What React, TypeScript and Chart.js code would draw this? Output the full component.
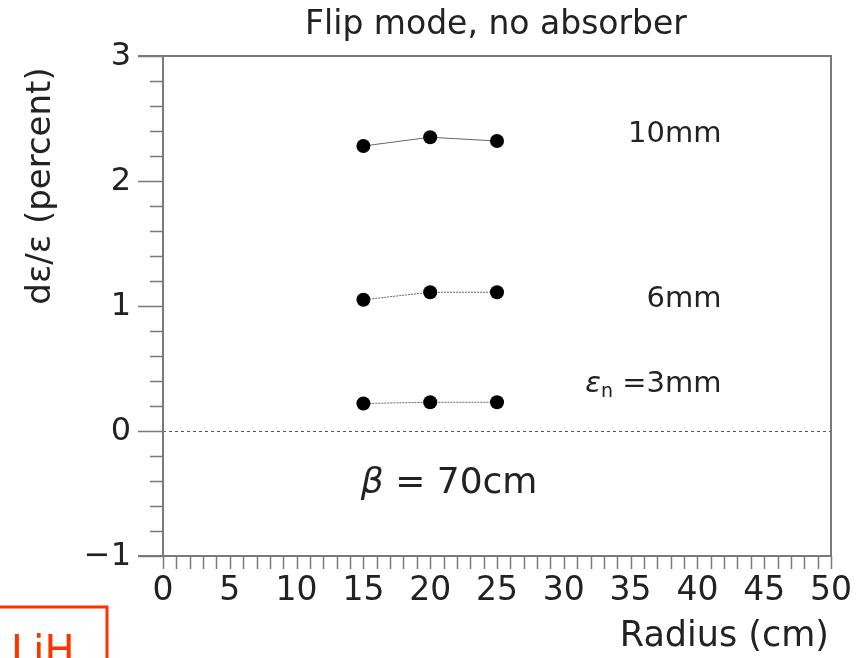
import React, { useEffect, useRef } from "react";
import { Chart, registerables } from "chart.js";

Chart.register(...registerables);

// Radius scan, beam optics beta = 70 cm
const radii = [15, 20, 25];
const emit3mm = [0.22, 0.23, 0.23];
const emit6mm = [1.05, 1.11, 1.11];
const emit10mm = [2.28, 2.35, 2.32];

const xTickValues = [0, 5, 10, 15, 20, 25, 30, 35, 40, 45, 50];
const yTickValues = [-1, 0, 1, 2, 3];

const FONT = '"DejaVu Sans", sans-serif';
const INK = "#222";
const AXIS = "#7a7a7a";

const toPoints = (ys: number[]) => radii.map((r, i) => ({ x: r, y: ys[i] }));

const decorations = {
  id: "decorations",
  beforeDatasetsDraw(chart: any) {
    const { ctx, chartArea: a, scales } = chart;
    const y0 = Math.round(scales.y.getPixelForValue(0)) + 0.5;
    ctx.save();
    ctx.strokeStyle = "#555";
    ctx.lineWidth = 1;
    ctx.setLineDash([3, 3]);
    ctx.beginPath();
    ctx.moveTo(a.left, y0);
    ctx.lineTo(a.right, y0);
    ctx.stroke();
    ctx.restore();
  },
  afterDraw(chart: any) {
    const { ctx, chartArea: a, scales } = chart;
    const xs = scales.x;
    const ys = scales.y;
    ctx.save();

    // frame
    ctx.strokeStyle = AXIS;
    ctx.lineWidth = 2;
    ctx.beginPath();
    ctx.moveTo(a.left - 25, a.top);
    ctx.lineTo(a.right, a.top);
    ctx.lineTo(a.right, a.bottom);
    ctx.moveTo(a.left - 25, a.bottom);
    ctx.lineTo(a.right, a.bottom);
    ctx.moveTo(a.left, a.top);
    ctx.lineTo(a.left, a.bottom);
    ctx.stroke();

    // y ticks: majors at integers, minors every 0.2
    ctx.lineWidth = 1.5;
    ctx.beginPath();
    for (let k = -5; k <= 15; k++) {
      const v = k / 5;
      const py = Math.round(ys.getPixelForValue(v)) + 0.5;
      const major = k % 5 === 0;
      ctx.moveTo(a.left - (major ? 25 : 13), py);
      ctx.lineTo(a.left, py);
    }
    // x ticks every 1 cm
    for (let v = 0; v <= 50; v++) {
      const px = Math.round(xs.getPixelForValue(v)) + 0.5;
      ctx.moveTo(px, a.bottom);
      ctx.lineTo(px, a.bottom + 13);
    }
    ctx.stroke();

    // tick labels
    ctx.fillStyle = INK;
    ctx.font = `32px ${FONT}`;
    ctx.textAlign = "right";
    ctx.textBaseline = "middle";
    yTickValues.forEach((v) => {
      const t = v < 0 ? "\u2212" + Math.abs(v) : String(v);
      ctx.fillText(t, 131, ys.getPixelForValue(v) + 1);
    });
    ctx.font = `33px ${FONT}`;
    ctx.textAlign = "center";
    ctx.textBaseline = "alphabetic";
    xTickValues.forEach((v) => {
      ctx.fillText(String(v), xs.getPixelForValue(v), a.bottom + 44);
    });

    // titles
    ctx.font = `33px ${FONT}`;
    ctx.textAlign = "center";
    ctx.fillText("Flip mode, no absorber", 496, 34);

    ctx.font = `35px ${FONT}`;
    ctx.textAlign = "right";
    ctx.fillText("Radius (cm)", a.right - 2, 646);

    ctx.save();
    ctx.translate(50, 186);
    ctx.rotate(-Math.PI / 2);
    ctx.textAlign = "center";
    ctx.font = `34px ${FONT}`;
    ctx.fillText("d\u03b5/\u03b5 (percent)", 0, 0);
    ctx.restore();

    // series labels
    ctx.font = `29px ${FONT}`;
    ctx.textAlign = "right";
    const rx = xs.getPixelForValue(41.8);
    ctx.fillText("10mm", rx, ys.getPixelForValue(2.39) + 10);
    ctx.fillText("6mm", rx, ys.getPixelForValue(1.07) + 10);
    // ε with subscript n, then "=3mm"
    const yb = ys.getPixelForValue(0.39) + 10;
    const tail = " =3mm";
    const wTail = ctx.measureText(tail).width;
    ctx.fillText(tail, rx, yb);
    ctx.font = `19px ${FONT}`;
    const wn = ctx.measureText("n").width;
    ctx.fillText("n", rx - wTail, yb + 5);
    ctx.font = `italic 29px ${FONT}`;
    ctx.fillText("\u03b5", rx - wTail - wn, yb);

    // beta annotation
    ctx.textAlign = "left";
    ctx.font = `italic 36px ${FONT}`;
    const bx = xs.getPixelForValue(14.8);
    const by = ys.getPixelForValue(-0.4) + 12;
    ctx.fillText("\u03b2", bx, by);
    const wb = ctx.measureText("\u03b2").width;
    ctx.font = `36px ${FONT}`;
    ctx.fillText(" = 70cm", bx + wb, by);

    // material tag
    ctx.strokeStyle = "#ff3300";
    ctx.lineWidth = 3;
    ctx.strokeRect(-5, 607, 112, 70);
    ctx.fillStyle = "#ff3300";
    ctx.font = `40px ${FONT}`;
    ctx.textAlign = "left";
    ctx.fillText("LiH", 11, 664);

    ctx.restore();
  },
};

export default function App() {
  const ref = useRef<HTMLCanvasElement | null>(null);

  useEffect(() => {
    if (!ref.current) return;
    const lineColor = "#666";
    const ds = (label: string, ys: number[], dash: number[]) => ({
      label,
      data: toPoints(ys),
      showLine: true,
      borderColor: lineColor,
      borderWidth: 1,
      borderDash: dash,
      pointRadius: 7,
      pointBackgroundColor: "#000",
      pointBorderColor: "#000",
      pointBorderWidth: 0,
    });
    const chart = new Chart(ref.current, {
      type: "scatter",
      data: {
        datasets: [
          ds("10mm", emit10mm, []),
          ds("6mm", emit6mm, [2, 1]),
          ds("3mm", emit3mm, [2, 1]),
        ],
      },
      options: {
        animation: false,
        responsive: false,
        devicePixelRatio: 1,
        layout: { padding: { left: 163, right: 26, top: 56, bottom: 102 } },
        plugins: { legend: { display: false }, tooltip: { enabled: false } },
        scales: {
          x: { type: "linear", min: 0, max: 50, display: false },
          y: { type: "linear", min: -1, max: 3, display: false },
        },
      },
      plugins: [decorations],
    });
    return () => chart.destroy();
  }, []);

  return (
    <div style={{ position: "absolute", left: 0, top: 0, width: 857, height: 658, background: "#fff" }}>
      <canvas ref={ref} width={857} height={658} style={{ display: "block" }} />
    </div>
  );
}
